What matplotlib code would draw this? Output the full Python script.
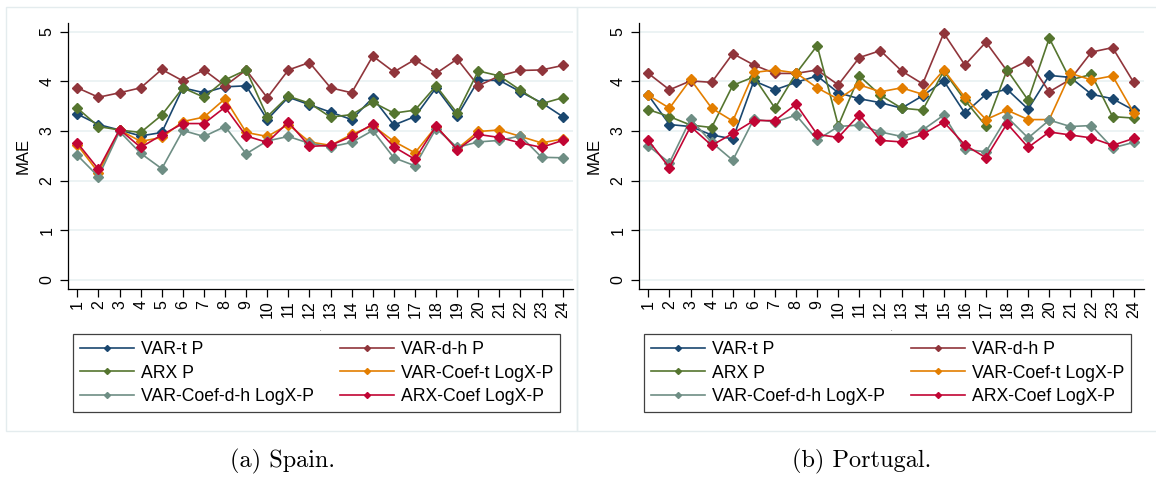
import matplotlib
matplotlib.use("Agg")
import matplotlib.pyplot as plt
from matplotlib.patches import Rectangle

plt.rcParams['font.family'] = ['Liberation Sans', 'DejaVu Sans']

hours = list(range(1, 25))

series_names = ["VAR-t P", "VAR-d-h P", "ARX P",
                "VAR-Coef-t LogX-P", "VAR-Coef-d-h LogX-P", "ARX-Coef LogX-P"]
# Stata s2color palette
colors = ["#1a476f", "#90353b", "#55752f", "#e37e00", "#6e8e84", "#c10534"]

# Spain
es_var_t = [3.34, 3.13, 3.02, 2.90, 2.97, 3.87, 3.77, 3.89, 3.91, 3.23, 3.68, 3.53,
            3.38, 3.23, 3.67, 3.12, 3.29, 3.87, 3.30, 4.02, 4.02, 3.79, 3.57, 3.29]
es_var_dh = [3.87, 3.68, 3.77, 3.87, 4.24, 4.01, 4.23, 3.91, 4.23, 3.67, 4.23, 4.38,
             3.87, 3.77, 4.51, 4.19, 4.44, 4.16, 4.45, 3.91, 4.11, 4.22, 4.23, 4.32]
es_arx = [3.46, 3.09, 3.02, 2.97, 3.32, 3.87, 3.68, 4.03, 4.23, 3.29, 3.70, 3.56,
          3.28, 3.33, 3.58, 3.36, 3.42, 3.91, 3.36, 4.21, 4.11, 3.82, 3.55, 3.67]
es_coef_t = [2.72, 2.16, 3.02, 2.79, 2.87, 3.19, 3.28, 3.65, 2.97, 2.89, 3.13, 2.78,
             2.71, 2.93, 3.11, 2.79, 2.56, 3.09, 2.64, 2.99, 3.02, 2.89, 2.76, 2.84]
es_coef_dh = [2.51, 2.08, 2.99, 2.55, 2.24, 3.01, 2.89, 3.09, 2.54, 2.80, 2.89, 2.75,
              2.68, 2.77, 3.01, 2.46, 2.30, 3.05, 2.67, 2.78, 2.81, 2.90, 2.47, 2.46]
es_arx_coef = [2.76, 2.23, 3.03, 2.67, 2.92, 3.15, 3.15, 3.48, 2.90, 2.77, 3.18, 2.69,
               2.71, 2.89, 3.14, 2.68, 2.43, 3.10, 2.62, 2.93, 2.87, 2.76, 2.67, 2.81]

# Portugal
pt_var_t = [3.72, 3.13, 3.09, 2.92, 2.84, 4.01, 3.83, 3.98, 4.11, 3.77, 3.65, 3.57,
            3.46, 3.71, 4.01, 3.36, 3.74, 3.84, 3.44, 4.12, 4.08, 3.74, 3.65, 3.42]
pt_var_dh = [4.16, 3.83, 4.01, 3.98, 4.56, 4.33, 4.16, 4.16, 4.23, 3.93, 4.48, 4.62,
             4.21, 3.95, 4.97, 4.33, 4.79, 4.21, 4.42, 3.79, 4.04, 4.59, 4.68, 3.98]
pt_arx = [3.43, 3.29, 3.12, 3.07, 3.92, 4.09, 3.46, 4.16, 4.72, 3.11, 4.11, 3.72,
          3.46, 3.42, 4.21, 3.62, 3.10, 4.23, 3.62, 4.87, 4.03, 4.14, 3.29, 3.26]
pt_coef_t = [3.72, 3.46, 4.04, 3.46, 3.20, 4.18, 4.23, 4.17, 3.87, 3.64, 3.93, 3.79,
             3.87, 3.74, 4.23, 3.68, 3.23, 3.42, 3.23, 3.23, 4.16, 4.03, 4.11, 3.37]
pt_coef_dh = [2.70, 2.36, 3.24, 2.77, 2.41, 3.24, 3.18, 3.32, 2.82, 3.09, 3.12, 2.98,
              2.89, 3.02, 3.32, 2.63, 2.58, 3.28, 2.86, 3.22, 3.09, 3.11, 2.66, 2.77]
pt_arx_coef = [2.81, 2.26, 3.09, 2.71, 2.95, 3.21, 3.21, 3.54, 2.93, 2.87, 3.33, 2.81,
               2.78, 2.93, 3.18, 2.72, 2.46, 3.15, 2.67, 2.98, 2.92, 2.86, 2.71, 2.85]

spain = [es_var_t, es_var_dh, es_arx, es_coef_t, es_coef_dh, es_arx_coef]
portugal = [pt_var_t, pt_var_dh, pt_arx, pt_coef_t, pt_coef_dh, pt_arx_coef]

W, H = 1156, 478
fig = plt.figure(figsize=(W / 100, H / 100), dpi=100)

def fx(px):
    return px / W

def fy(py):
    return 1 - py / H

# light outer frames of the two graph regions
for x0, x1 in [(5.5, 577), (577, 1160)]:
    fig.add_artist(Rectangle((fx(x0), fy(430.5)), fx(x1 - x0), (430.5 - 7.3) / H,
                             transform=fig.transFigure, fill=False,
                             edgecolor="#e4ecee", lw=1.0))

def panel(left_px, data, caption, cap_x):
    ax = fig.add_axes([fx(left_px), fy(289.3), fx(504.7), 266 / H])
    for vals, name, c in zip(data, series_names, colors):
        ax.plot(hours, vals, color=c, lw=1.2, marker="D", ms=5.5,
                mec=c, mfc=c, label=name)
    ax.set_xlim(0.57, 24.49)
    ax.set_ylim(-0.19, 5.17)
    ax.set_xticks(hours)
    ax.set_xticklabels([str(h) for h in hours], rotation=90, fontsize=11.5)
    ax.set_yticks(range(6))
    ax.set_yticklabels([str(v) for v in range(6)], rotation=90, va="center",
                       fontsize=11.5)
    ax.tick_params(axis="both", length=6, width=0.9, direction="out")
    ax.tick_params(axis="y", pad=4)
    ax.tick_params(axis="x", pad=2)
    ax.yaxis.grid(True, color="#eaf2f3", lw=1.3)
    ax.set_axisbelow(True)
    for s in ["top", "right"]:
        ax.spines[s].set_visible(False)
    for s in ["left", "bottom"]:
        ax.spines[s].set_linewidth(0.9)
    ax.set_ylabel("MAE", fontsize=12, labelpad=6)
    ax.set_xlabel(".", fontsize=4, labelpad=6)

    # legend filled row by row, two columns
    h, l = ax.get_legend_handles_labels()
    order = [0, 2, 4, 1, 3, 5]
    leg = ax.legend([h[i] for i in order], [l[i] for i in order], ncol=2,
                    loc="upper left",
                    bbox_to_anchor=(fx(left_px + 5), fy(334)),
                    bbox_transform=fig.transFigure, fontsize=12.7,
                    frameon=True, fancybox=False, edgecolor="#404040",
                    framealpha=1, borderaxespad=0, handlelength=3.05,
                    handletextpad=0.4, labelspacing=0.39, markerscale=0.55,
                    borderpad=0.38, columnspacing=1.5)
    leg.get_frame().set_linewidth(0.9)

    fig.text(fx(cap_x), fy(461), caption, family="cmr10", fontsize=17.5,
             ha="center", va="center")
    return ax

panel(68.3, spain, "(a) Spain.", 283)
panel(639.3, portugal, "(b) Portugal.", 862)

fig.savefig("out.png", dpi=100)
